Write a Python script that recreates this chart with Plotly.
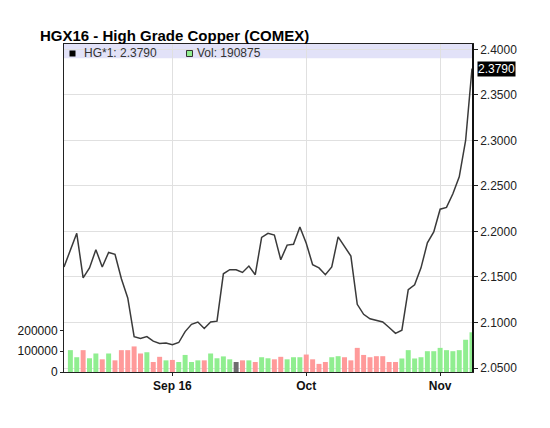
import pandas as pd
import plotly.graph_objects as go

# ---- data -------------------------------------------------------------
trading_days = pd.bdate_range("2016-08-09", "2016-11-08")
trading_days = trading_days[trading_days != pd.Timestamp("2016-09-05")]  # Labor Day

price = [
    2.161, 2.180, 2.198, 2.149, 2.160, 2.180, 2.161, 2.177, 2.175, 2.148,
    2.127, 2.0845, 2.0825, 2.0845, 2.0795, 2.0770, 2.0775, 2.0755, 2.0780, 2.090,
    2.098, 2.1005, 2.0935, 2.1005, 2.1015, 2.1535, 2.158, 2.158, 2.155, 2.162,
    2.1525, 2.1935, 2.198, 2.196, 2.169, 2.185, 2.186, 2.205, 2.187, 2.1635,
    2.160, 2.1525, 2.161, 2.194, 2.1835, 2.173, 2.120, 2.109, 2.104, 2.1025,
    2.1005, 2.0945, 2.088, 2.0915, 2.136, 2.1415, 2.160, 2.1875, 2.1995, 2.2245,
    2.2265, 2.2415, 2.260, 2.300, 2.379,
]

volume = [
    None, 105000, 71000, 105000, 66000, 89000, 61000, 89000, 56000, 105000,
    105000, 123000, 89000, 95000, 48000, 73000, 56000, 58000, 48000, 82000,
    48000, 56000, 56000, 89000, 66000, 75000, 61000, 48000, 56000, 56000,
    48000, 71000, 66000, 61000, 73000, 61000, 71000, 71000, 84000, 61000,
    39000, 48000, 71000, 76000, 71000, 56000, 116000, 82000, 71000, 76000,
    76000, 48000, 48000, 65000, 105000, 65000, 71000, 100000, 100000, 116000,
    105000, 100000, 105000, 155000, 190875,
]

month_labels = ["Sep 16", "Oct", "Nov"]
price_ticks = [2.05, 2.10, 2.15, 2.20, 2.25, 2.30, 2.35, 2.40]
volume_ticks = [0, 100000, 200000]

symbol = "HG*1"
title = "HGX16 - High Grade Copper (COMEX)"

# ---- derived ----------------------------------------------------------
x = list(range(len(trading_days)))
month_starts = [i for i in range(1, len(trading_days))
                if trading_days[i].month != trading_days[i - 1].month]

UP, DOWN, FLAT = "#90ee90", "#ff9a9a", "#6e6e6e"
bar_colors = [FLAT]
for i in range(1, len(price)):
    if price[i] > price[i - 1]:
        bar_colors.append(UP)
    elif price[i] < price[i - 1]:
        bar_colors.append(DOWN)
    else:
        bar_colors.append(FLAT)

FONT = "Liberation Sans, Arial, Helvetica, sans-serif"

fig = go.Figure()
fig.add_trace(go.Bar(
    x=x, y=volume, marker=dict(color=bar_colors, line=dict(width=0)),
    yaxis="y", showlegend=False,
))
fig.add_trace(go.Scatter(
    x=x, y=price, mode="lines", line=dict(color="#3a3a3a", width=1.5),
    yaxis="y2", showlegend=False,
))

fig.update_layout(
    width=550, height=428,
    margin=dict(l=64, r=78, t=44, b=56),
    paper_bgcolor="white", plot_bgcolor="white",
    bargap=0.22,
    font=dict(family=FONT, size=12, color="#222"),
    xaxis=dict(
        range=[0, len(x) - 1],
        tickvals=month_starts, ticktext=month_labels,
        tickfont=dict(size=12, color="#111", weight=700),
        showgrid=True, gridcolor="#e0e0e0", gridwidth=1,
        showline=True, linecolor="#222", linewidth=1, mirror=True,
        ticks="outside", ticklen=3, tickcolor="#222",
        zeroline=False,
    ),
    yaxis=dict(
        range=[0, 1577000],
        tickvals=volume_ticks, tickformat="d",
        tickfont=dict(size=12, color="#111"),
        showgrid=False, zeroline=False,
        showline=True, linecolor="#222", linewidth=1,
        ticks="outside", ticklen=3, tickcolor="#222",
    ),
    yaxis2=dict(
        overlaying="y", side="right",
        range=[2.0456, 2.4060],
        tickvals=price_ticks, tickformat=".4f",
        tickfont=dict(size=12, color="#222"),
        showgrid=True, gridcolor="#e0e0e0", gridwidth=1,
        zeroline=False,
        showline=True, linecolor="#111", linewidth=1.5,
        ticks="outside", ticklen=4, tickcolor="#222",
    ),
    shapes=[
        dict(type="rect", xref="paper", yref="paper",
             x0=0, x1=1, y0=(372 - 58.3) / 328, y1=1,
             fillcolor="#e2e2f8", line=dict(width=0), layer="below"),
        dict(type="rect", xref="paper", yref="paper",
             x0=(69.5 - 64) / 408, x1=(75.5 - 64) / 408,
             y0=(372 - 56.5) / 328, y1=(372 - 50.5) / 328,
             fillcolor="#000", line=dict(width=0)),
        dict(type="rect", xref="paper", yref="paper",
             x0=(186.5 - 64) / 408, x1=(192.5 - 64) / 408,
             y0=(372 - 56.5) / 328, y1=(372 - 50.5) / 328,
             fillcolor=UP, line=dict(width=1, color="#333")),
    ],
    annotations=[
        dict(text=title, xref="paper", yref="paper",
             x=(38 - 64) / 408, y=(372 - 35.5) / 328,
             xanchor="left", yanchor="middle", showarrow=False,
             font=dict(size=15, color="#000", weight=700, family=FONT)),
        dict(text=f"{symbol}: {price[-1]:.4f}", xref="paper", yref="paper",
             x=(82 - 64) / 408, y=(372 - 53.5) / 328,
             xanchor="left", yanchor="middle", showarrow=False,
             font=dict(size=12, color="#333")),
        dict(text=f"Vol: {volume[-1]}", xref="paper", yref="paper",
             x=(195 - 64) / 408, y=(372 - 53.5) / 328,
             xanchor="left", yanchor="middle", showarrow=False,
             font=dict(size=12, color="#333")),
        dict(text=f"{price[-1]:.4f}", xref="paper", yref="y2",
             x=1, y=price[-1], xanchor="left", yanchor="middle",
             xshift=5, showarrow=False, bgcolor="#000", borderpad=0,
             font=dict(size=12, color="#fff")),
    ],
)

fig.write_html("out.html")
